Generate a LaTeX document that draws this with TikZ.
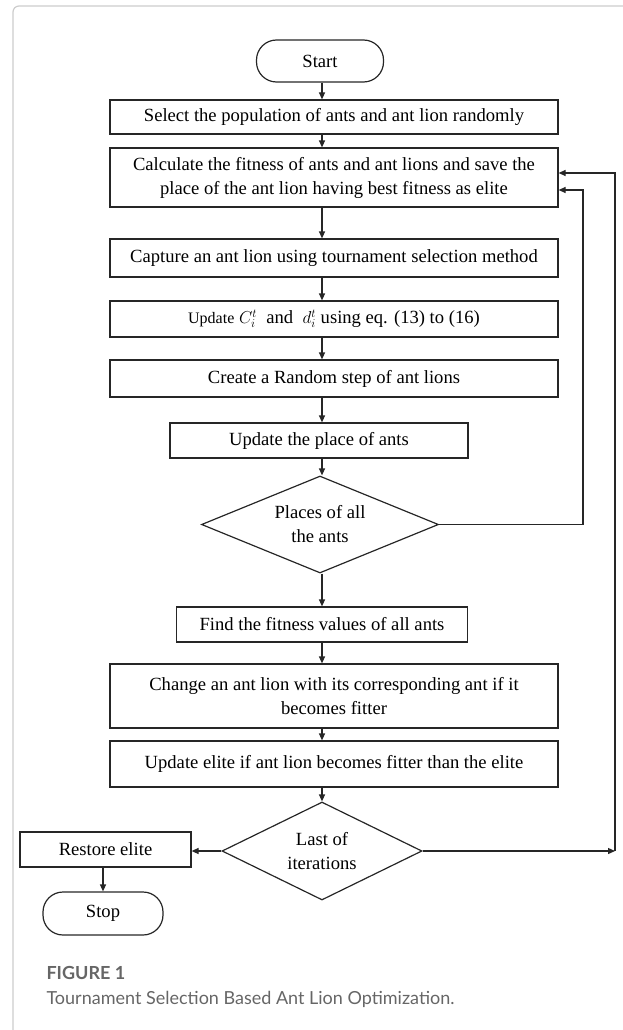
\documentclass[tikz,border=0pt]{standalone}
\usepackage{fontspec}
\setmainfont{Liberation Serif}
\newfontfamily\capfont{Lato}
\usetikzlibrary{arrows.meta,shapes.geometric,positioning}

\begin{document}
\begin{tikzpicture}[x=1pt,y=-1pt,
  every node/.style={font=\fontsize{18.6}{24}\selectfont},
  box/.style={draw=black!85,line width=1.2pt,rectangle,inner sep=0pt,align=center},
  term/.style={box,rounded corners=20pt},
  dec/.style={draw=black!85,line width=1.2pt,diamond,aspect=2.4,inner sep=0pt,align=center},
  arr/.style={-{Triangle[length=7pt,width=6pt]},line width=1.2pt,draw=black!85},
  capline/.style={font=\capfont\fontsize{18}{22}\selectfont,anchor=west}]
\useasboundingbox (0,0) rectangle (622,1030);
% card frame
\draw[black!20,line width=1.2pt,rounded corners=6pt] (13,1031) -- (13,6) -- (623,6);
% arrow column and feedback lines
\coordinate (ax) at (322,0);
\coordinate (fbin) at (583,0);
\coordinate (fbout) at (615,0);
% steps
\node[term,minimum width=127,minimum height=42] (start) at (320,61) {Start};
\node[box,minimum width=448,minimum height=34] (sel) at (334,117) {Select the population of ants and ant lion randomly};
\node[box,minimum width=448,minimum height=59] (calc) at (334,177.5) {Calculate the fitness of ants and ant lions and save the\\place of the ant lion having best fitness as elite};
\node[box,minimum width=448,minimum height=38] (cap) at (334,258) {Capture an ant lion using tournament selection method};
\node[box,minimum width=448,minimum height=36] (upd) at (334,319) {{\fontsize{16}{20}\selectfont Update} $C_i^t$\ \ and\ \ $d_i^t$ using eq. (13) to (16)};
\node[box,minimum width=448,minimum height=37] (rnd) at (334,378.5) {Create a Random step of ant lions};
\node[box,minimum width=298,minimum height=35] (plc) at (319,440.5) {Update the place of ants};
\node[dec,minimum width=237,minimum height=97] (dec1) at (320,524.5) {Places of all\\the ants};
\node[box,minimum width=291,minimum height=35] (fit) at (322,624.5) {Find the fitness values of all ants};
\node[box,minimum width=448,minimum height=64] (chg) at (334,696) {Change an ant lion with its corresponding ant if it\\becomes fitter};
\node[box,minimum width=448,minimum height=46] (elt) at (334,764) {Update elite if ant lion becomes fitter than the elite};
\node[dec,minimum width=200,minimum height=98] (dec2) at (322,851) {Last of\\iterations};
\node[box,minimum width=171,minimum height=35] (rst) at (105.5,849.5) {Restore elite};
\node[term,minimum width=120,minimum height=43] (stop) at (103,913.5) {Stop};
% main flow
\draw[arr] (start.south -| ax) -- (sel.north -| ax);
\draw[arr] (sel.south -| ax) -- (calc.north -| ax);
\draw[arr] (calc.south -| ax) -- (cap.north -| ax);
\draw[arr] (cap.south -| ax) -- (upd.north -| ax);
\draw[arr] (upd.south -| ax) -- (rnd.north -| ax);
\draw[arr] (rnd.south -| ax) -- (plc.north -| ax);
\draw[arr] (plc.south -| ax) -- (dec1.north -| ax);
\draw[arr] (dec1.south -| ax) -- (fit.north -| ax);
\draw[arr] (fit.south -| ax) -- (chg.north -| ax);
\draw[arr] (chg.south -| ax) -- (elt.north -| ax);
\draw[arr] (elt.south -| ax) -- (dec2.north);
\draw[arr] (dec2.west) -- (dec2.west -| rst.east);
\draw[arr] (rst.south -| stop) -- (stop.north);
% loops back
\draw[arr] (dec1.east) -- (dec1.east -| fbin) |- ([yshift=-12.5pt]calc.east);
\draw[arr] (dec2.east) -- (dec2.east -| fbout);
\draw[arr] (dec2.east -| fbout) |- ([yshift=4.5pt]calc.east);
% caption
\node[capline,font=\capfont\bfseries\fontsize{18}{22}\selectfont,text=black!60] (figno) at (43,973) {FIGURE 1};
\node[capline,text=black!60] (figtxt) at (43,999) {Tournament Selection Based Ant Lion Optimization.};
\end{tikzpicture}
\end{document}
